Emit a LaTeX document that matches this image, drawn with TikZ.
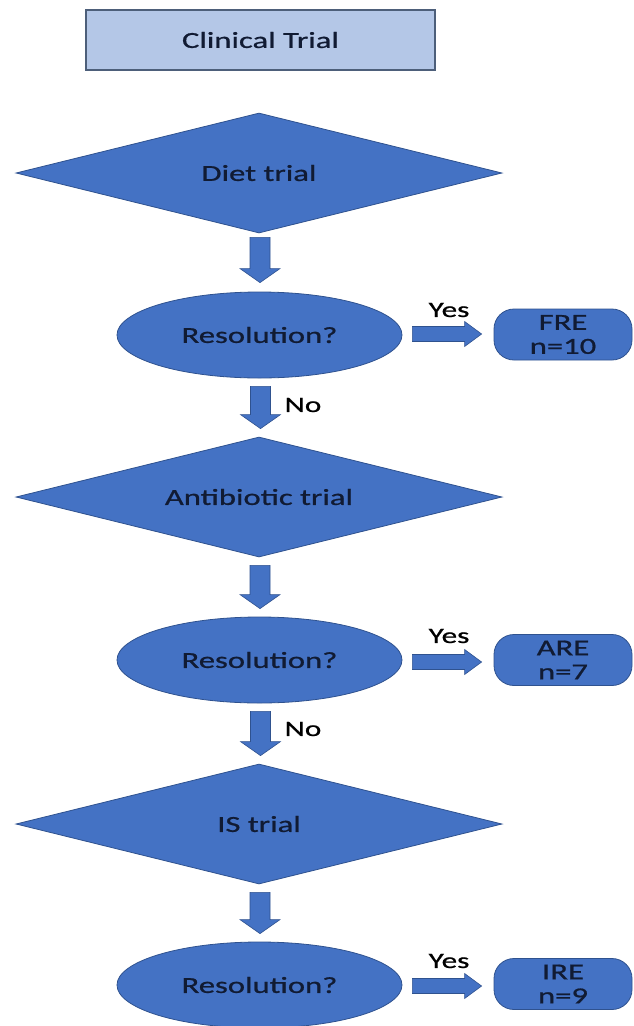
\documentclass[tikz,border=0pt]{standalone}
\usepackage{fontspec}
\setmainfont{Carlito}[FakeStretch=1.42,FakeBold=0.8]
\usetikzlibrary{shapes.geometric,calc}
\definecolor{shp}{HTML}{4472C4}
\definecolor{shpline}{HTML}{2F528F}
\definecolor{topfill}{HTML}{B4C7E7}
\definecolor{topline}{HTML}{4D5F7A}
\definecolor{txt}{HTML}{111B33}
\newcommand\blkdown[2]{\path[blk] let \p1=(#1), \p2=(#2) in
  (\x1-10pt,\y1) -- (\x1+10pt,\y1) -- (\x1+10pt,\y2+14pt) -- (\x1+20pt,\y2+14pt)
  -- (\x1,\y2) -- (\x1-20pt,\y2+14pt) -- (\x1-10pt,\y2+14pt) -- cycle;}
\newcommand\blkright[2]{\path[blk] let \p1=(#1), \p2=(#2) in
  (\x1,\y1+7.5pt) -- (\x2-17pt,\y1+7.5pt) -- (\x2-17pt,\y1+12.5pt) -- (\x2,\y1)
  -- (\x2-17pt,\y1-12.5pt) -- (\x2-17pt,\y1-7.5pt) -- (\x1,\y1-7.5pt) -- cycle;}
\begin{document}
\begin{tikzpicture}[x=1pt,y=-1pt,
  base/.style={font=\fontsize{23}{24}\selectfont, text=txt, inner sep=0pt},
  topbox/.style={base, draw=topline, fill=topfill, line width=1.2pt, minimum width=349pt, minimum height=60pt},
  dia/.style={base, diamond, aspect=4, draw=shpline, fill=shp, line width=0.8pt, minimum width=486pt, minimum height=120pt},
  ell/.style={base, ellipse, draw=shpline, fill=shp, line width=0.8pt, minimum width=285pt, minimum height=86pt},
  res/.style={base, rounded corners=20pt, draw=shpline, fill=shp, line width=0.8pt, minimum width=138pt, minimum height=51pt, align=center},
  blk/.style={fill=shp, draw=shpline, line width=0.6pt},
  lbl/.style={font=\fontsize{22}{24}\selectfont, text=black, inner sep=0pt}]
\useasboundingbox[fill=white] (0,0) rectangle (634,1026);
\node[topbox] (ct) at (260.5,40) {Clinical Trial};
\node[dia] (d1) at (259,173) {Diet trial};
\node[ell] (e1) at (259.5,335) {Resolution?};
\node[res] (r1) at (563,334.5) {FRE\\n=10};
\node[dia] (d2) at (259,497) {Antibiotic trial};
\node[ell] (e2) at (259.5,660) {Resolution?};
\node[res] (r2) at (563,660) {ARE\\n=7};
\node[dia] (d3) at (259,824) {IS trial};
\node[ell] (e3) at (259.5,985) {Resolution?};
\node[res] (r3) at (563,984) {IRE\\n=9};
% down arrows
\coordinate (a1s) at ($(d1.south)+(1,4)$);  \coordinate (a1e) at ($(e1.north)+(0,-9)$);
\coordinate (a2s) at ($(e1.south)+(1,8)$);  \coordinate (a2e) at ($(d2.north)+(0,-8)$);
\coordinate (a3s) at ($(d2.south)+(1,8)$);  \coordinate (a3e) at ($(e2.north)+(0,-8)$);
\coordinate (a4s) at ($(e2.south)+(1,8)$);  \coordinate (a4e) at ($(d3.north)+(0,-8)$);
\coordinate (a5s) at ($(d3.south)+(1,8)$);  \coordinate (a5e) at ($(e3.north)+(0,-8)$);
\blkdown{a1s}{a1e}
\blkdown{a2s}{a2e}
\blkdown{a3s}{a3e}
\blkdown{a4s}{a4e}
\blkdown{a5s}{a5e}
% right arrows
\coordinate (b1s) at ($(e1.east)+(10,-1)$); \coordinate (b1e) at ($(r1.west)+(-12,0)$);
\coordinate (b2s) at ($(e2.east)+(10,2)$); \coordinate (b2e) at ($(r2.west)+(-12,0)$);
\coordinate (b3s) at ($(e3.east)+(10,1)$); \coordinate (b3e) at ($(r3.west)+(-12,0)$);
\blkright{b1s}{b1e}
\blkright{b2s}{b2e}
\blkright{b3s}{b3e}
% labels
\node[lbl] (y1) at (449,310) {Yes};
\node[lbl] (n1) at (303,405) {No};
\node[lbl] (y2) at (449,636) {Yes};
\node[lbl] (n2) at (303,729) {No};
\node[lbl] (y3) at (449,961) {Yes};
\end{tikzpicture}
\end{document}
